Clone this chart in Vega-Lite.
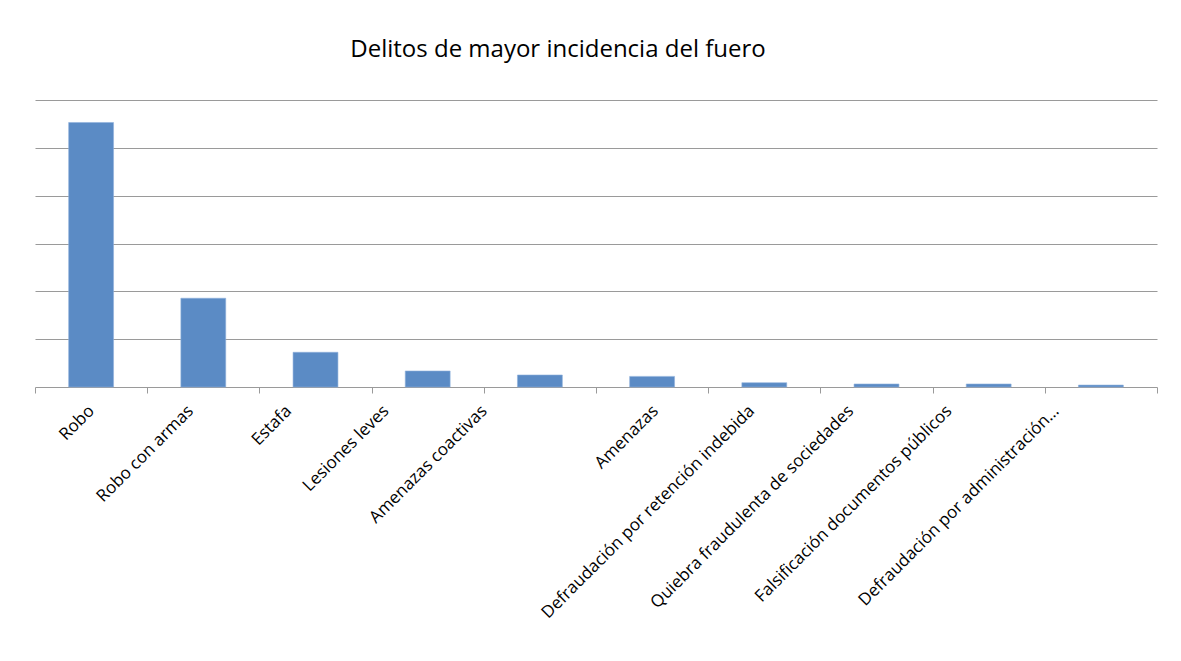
{
  "$schema": "https://vega.github.io/schema/vega-lite/v6.json",
  "width": 1122,
  "height": 287,
  "autosize": {"type": "none"},
  "padding": {"left": 35, "top": 100, "right": 24, "bottom": 274},
  "background": "white",
  "title": {
    "text": "Delitos de mayor incidencia del fuero",
    "font": "Open Sans",
    "fontSize": 24,
    "fontWeight": 500,
    "color": "#000000",
    "offset": 38,
    "dx": -38
  },
  "data": {
    "values": [
      {"delito": "Robo", "casos": 5530},
      {"delito": "Robo con armas", "casos": 1856},
      {"delito": "Estafa", "casos": 726},
      {"delito": "Lesiones leves", "casos": 335},
      {"delito": "Amenazas coactivas", "casos": 251},
      {"delito": "Amenazas", "casos": 222},
      {"delito": "Defraudación por retención indebida", "casos": 90},
      {"delito": "Quiebra fraudulenta de sociedades", "casos": 63},
      {"delito": "Falsificación documentos públicos", "casos": 63},
      {"delito": "Defraudación por administración…", "casos": 40}
    ]
  },
  "mark": {"type": "bar", "color": "#5b8bc5", "stroke": "#8fb0db", "strokeWidth": 0.6, "width": {"band": 0.4}},
  "encoding": {
    "x": {
      "field": "delito",
      "type": "nominal",
      "sort": null,
      "scale": {"paddingInner": 0, "paddingOuter": 0},
      "axis": {
        "title": null,
        "labelAngle": -45,
        "labelAlign": "right",
        "labelBaseline": "middle",
        "labelFont": "Open Sans",
        "labelFontSize": 17,
        "labelColor": "#000000",
        "labelPadding": 15,
        "labelLimit": 400,
        "labelOffset": {"expr": "[0,-13,-27,-42,-56,3,-13,-26,-40,-45][indexof(['Robo','Robo con armas','Estafa','Lesiones leves','Amenazas coactivas','Amenazas','Defraudación por retención indebida','Quiebra fraudulenta de sociedades','Falsificación documentos públicos','Defraudación por administración…'], datum.value)]"},
        "domainColor": "#9a9a9a",
        "tickColor": "#9a9a9a",
        "tickSize": 6,
        "tickBand": "extent"
      }
    },
    "y": {
      "field": "casos",
      "type": "quantitative",
      "scale": {"domain": [0, 6000], "nice": false},
      "axis": {
        "title": null,
        "labels": false,
        "ticks": false,
        "domain": false,
        "values": [1000, 2000, 3000, 4000, 5000, 6000],
        "gridColor": "#9a9a9a",
        "gridWidth": 1.2
      }
    }
  },
  "config": {"view": {"stroke": null}}
}
